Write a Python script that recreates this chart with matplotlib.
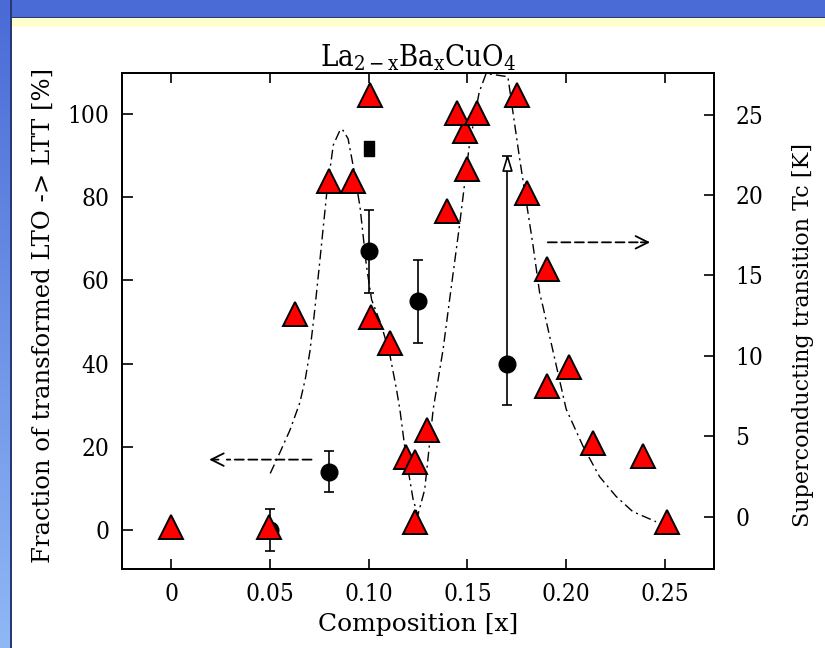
import numpy as np
import matplotlib
matplotlib.use("Agg")
import matplotlib.pyplot as plt

plt.rcParams['font.family'] = ['DejaVu Serif']
plt.rcParams['font.stretch'] = 'condensed'
plt.rcParams['mathtext.default'] = 'regular'

# superconducting transition temperature (triangles, right axis)
tc_x = [0.0, 0.0494, 0.0629, 0.0797, 0.0922, 0.1005, 0.1012, 0.1107, 0.1188,
        0.1236, 0.1236, 0.1296, 0.1398, 0.1488, 0.1448, 0.1498, 0.1551,
        0.1751, 0.1802, 0.1903, 0.1904, 0.2016, 0.2136, 0.2388, 0.2510]
tc_k = [-0.6, -0.6, 12.6, 20.9, 20.9, 26.2, 12.4, 10.8, 3.7,
        3.4, -0.3, 5.4, 19.0, 24.0, 25.1, 21.6, 25.1,
        26.2, 20.1, 8.15, 15.4, 9.3, 4.6, 3.8, -0.3]

# fraction of LTO transformed to LTT (circles, left axis)
frac_x = [0.05, 0.08, 0.10, 0.125, 0.17]
frac = [0, 14, 67, 55, 40]
frac_lo = [5, 5, 10, 10, 10]
frac_hi = [5, 5, 10, 10, 50]

# narrow single measurement at x = 0.10
extra_x = [0.10]
extra = [92]

# dash-dot guide line through the Tc points
guide_x = [0.0502, 0.0551, 0.0602, 0.0652, 0.0680, 0.0703, 0.0725, 0.0753,
           0.0787, 0.0821, 0.0854, 0.0866, 0.0896, 0.0922, 0.0956, 0.0989,
           0.1015, 0.1065, 0.1107, 0.1140, 0.1158, 0.1192, 0.1225, 0.1249,
           0.1284, 0.1327, 0.1377, 0.1410, 0.1460, 0.1510, 0.1560, 0.1595,
           0.1705, 0.1730, 0.1764, 0.1798, 0.1832, 0.1866, 0.1882, 0.1950,
           0.2000, 0.2085, 0.2169, 0.2253, 0.2337, 0.2455]
guide_tc = [2.7, 4.0, 5.4, 7.1, 8.6, 10.3, 12.6, 15.9,
            20.0, 23.1, 24.0, 24.1, 23.5, 21.8, 19.3, 15.6,
            13.5, 11.9, 10.1, 8.0, 6.7, 3.5, 1.1, 0.1,
            1.7, 6.7, 10.4, 13.5, 18.1, 23.1, 26.4, 27.55,
            27.35, 25.2, 22.3, 19.6, 16.9, 13.9, 13.1, 9.4,
            6.7, 4.4, 2.5, 1.27, 0.33, -0.3]

W, H = 825, 648
fig = plt.figure(figsize=(W / 100, H / 100), dpi=100)

# slide frame: blue band on top and left, cream strip under the top band
frame = np.ones((H, W, 3))
top_blue = np.array([74, 107, 214]) / 255
low_blue = np.array([143, 184, 245]) / 255
t = np.linspace(0, 1, H)[:, None]
frame[:, :10] = (top_blue * (1 - t) + low_blue * t)[:, None, :]
frame[:17, :] = top_blue
frame[:, 10:12] = np.array([40, 55, 120]) / 255
frame[17:18, 10:] = np.array([40, 55, 120]) / 255
frame[18:27, 12:] = np.array([255, 255, 204]) / 255
bg = fig.add_axes([0, 0, 1, 1], zorder=-10)
bg.imshow(frame, aspect='auto', interpolation='nearest')
bg.axis('off')

ax = fig.add_axes([121.7 / W, 1 - 568.7 / H, 592.6 / W, 496 / H])
ax2 = ax.twinx()

ax.errorbar(frac_x, frac, yerr=[frac_lo, frac_hi], fmt='o', color='black',
            ms=12, elinewidth=1.2, capsize=3.6, capthick=1.2, zorder=3)
rect = [(-0.33, -0.5), (0.33, -0.5), (0.33, 0.5), (-0.33, 0.5), (-0.33, -0.5)]
ax.plot(extra_x, extra, ls='none', marker=rect, color='black', ms=10.8)
# open arrowhead at the top of the last error bar
head = [(0, 0), (-0.3, -1), (0.3, -1), (0, 0)]
ax.plot([frac_x[-1]], [frac[-1] + frac_hi[-1]], ls='none', marker=head,
        mfc='white', mec='black', mew=1.2, ms=21, zorder=4)

ax2.plot(guide_x, guide_tc, color='black', lw=1.0, dashes=(7, 3, 1.5, 3), zorder=2)
ax2.plot(tc_x, tc_k, ls='none', marker='^', ms=17.5, mfc='red', mec='black',
         mew=1.4, zorder=3)

# arrows showing which axis each data set belongs to
dash = dict(arrowstyle='-', ls=(0, (5, 2.5)), lw=1.3, color='black',
            shrinkA=0, shrinkB=0)
tip = dict(arrowstyle='->, head_length=0.9, head_width=0.45', lw=1.3,
           color='black', shrinkA=0, shrinkB=0, mutation_scale=10)
ax.annotate('', xy=(0.0282, 16.9), xytext=(0.0711, 16.9), arrowprops=dash)
ax.annotate('', xy=(0.0193, 16.9), xytext=(0.0240, 16.9), arrowprops=tip)
ax2.annotate('', xy=(0.2362, 17.06), xytext=(0.1907, 17.06), arrowprops=dash)
ax2.annotate('', xy=(0.2425, 17.06), xytext=(0.2378, 17.06), arrowprops=tip)

ax.set_xlim(-0.025, 0.275)
ax.set_ylim(-9.35, 110)
ax2.set_ylim(-3.22, 27.6)

ax.set_xticks([0, 0.05, 0.10, 0.15, 0.20, 0.25])
ax.set_xticklabels(['0', '0.05', '0.10', '0.15', '0.20', '0.25'])
ax.set_yticks([0, 20, 40, 60, 80, 100])
ax2.set_yticks([0, 5, 10, 15, 20, 25])

ax.tick_params(axis='x', direction='in', top=True, length=7, width=1.2,
               labelsize=17.5, pad=10)
ax.tick_params(axis='y', direction='in', right=False, length=8, width=1.2,
               labelsize=17.5, pad=9)
ax2.tick_params(axis='y', direction='in', length=7, width=1.2,
                labelsize=17.5, pad=15)
for a in (ax, ax2):
    for s in a.spines.values():
        s.set_linewidth(1.3)

ax.set_title(r'La$_{2-x}$Ba$_x$CuO$_4$', fontsize=21, pad=5)
ax.set_xlabel('Composition [x]', fontsize=18, fontstretch='normal')
ax.xaxis.set_label_coords(0.5, -0.09)
ax.set_ylabel('Fraction of transformed LTO -> LTT [%]', fontsize=17.5,
              fontstretch='normal')
ax.yaxis.set_label_coords(-0.113, 0.51)
ax2.set_ylabel('Superconducting transition Tc [K]', fontsize=16,
               fontstretch='normal')
ax2.yaxis.set_label_coords(1.131, 0.472)

fig.savefig('out.png', dpi=100)
